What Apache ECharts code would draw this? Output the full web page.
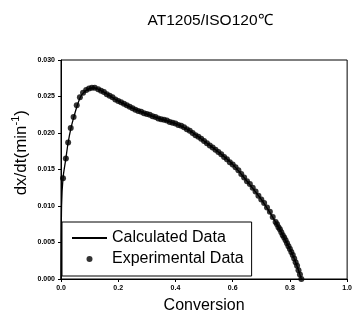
<!DOCTYPE html>
<html><head><meta charset="utf-8">
<script src="https://cdn.jsdelivr.net/npm/echarts@6/dist/echarts.min.js"></script>
<style>html,body{margin:0;padding:0;background:#fff}#c{width:355px;height:325px}</style>
</head><body><div id="c"></div>
<script>
const titleText = 'AT1205/ISO120℃';
const xName = 'Conversion';
const seriesNames = ['Calculated Data', 'Experimental Data'];
const xTicks = [0, 0.2, 0.4, 0.6, 0.8, 1.0];
const yTicks = [0, 0.005, 0.010, 0.015, 0.020, 0.025, 0.030];

const calcX = [0, 0.002, 0.007, 0.017, 0.025, 0.035, 0.045, 0.057, 0.069, 0.081, 0.095, 0.112, 0.13, 0.15, 0.17, 0.20, 0.25, 0.30, 0.35, 0.40, 0.45, 0.50, 0.55, 0.60, 0.65, 0.70, 0.75, 0.80, 0.82, 0.84];
const calcY = [0, 0.0100, 0.0138, 0.0165, 0.0187, 0.0207, 0.0222, 0.0238, 0.0250, 0.0256, 0.0260, 0.0262, 0.0260, 0.0256, 0.0251, 0.0244, 0.0234, 0.0226, 0.0219, 0.0213, 0.0203, 0.0189, 0.0174, 0.0157, 0.0134, 0.0109, 0.0078, 0.0041, 0.0023, 0.0000];

const expX = [0.007, 0.017, 0.025, 0.034, 0.044, 0.055, 0.066, 0.077, 0.088, 0.098, 0.108, 0.118, 0.13, 0.14, 0.15, 0.16, 0.17, 0.18, 0.19, 0.20, 0.21, 0.22, 0.23, 0.24, 0.25, 0.26, 0.27, 0.28, 0.29, 0.30, 0.31, 0.32, 0.33, 0.34, 0.35, 0.36, 0.37, 0.38, 0.39, 0.40, 0.41, 0.42, 0.43, 0.44, 0.45, 0.46, 0.47, 0.48, 0.49, 0.50, 0.51, 0.52, 0.53, 0.54, 0.55, 0.56, 0.57, 0.58, 0.59, 0.60, 0.61, 0.62, 0.63, 0.64, 0.65, 0.66, 0.67, 0.68, 0.69, 0.70, 0.71, 0.72, 0.73, 0.74, 0.75, 0.755, 0.76, 0.765, 0.77, 0.775, 0.78, 0.785, 0.79, 0.795, 0.80, 0.805, 0.81, 0.815, 0.82, 0.825, 0.83, 0.835, 0.84];
const expY = [0.0138, 0.0165, 0.0187, 0.0207, 0.0222, 0.0238, 0.0249, 0.0255, 0.0259, 0.0261, 0.0262, 0.0262, 0.0260, 0.0258, 0.0256, 0.0253, 0.0251, 0.0249, 0.0246, 0.0244, 0.0242, 0.0240, 0.0238, 0.0236, 0.0234, 0.0232, 0.0230, 0.0229, 0.0227, 0.0226, 0.0225, 0.0223, 0.0222, 0.0220, 0.0219, 0.0218, 0.0217, 0.0215, 0.0214, 0.0213, 0.0211, 0.0210, 0.0208, 0.0205, 0.0203, 0.0200, 0.0197, 0.0195, 0.0192, 0.0189, 0.0186, 0.0183, 0.0180, 0.0177, 0.0174, 0.0171, 0.0167, 0.0164, 0.0160, 0.0157, 0.0153, 0.0149, 0.0144, 0.0139, 0.0134, 0.0130, 0.0125, 0.0120, 0.0114, 0.0109, 0.0104, 0.0098, 0.0092, 0.0085, 0.0078, 0.0075, 0.0071, 0.0068, 0.0064, 0.0060, 0.0057, 0.0053, 0.0049, 0.0045, 0.0041, 0.0037, 0.0033, 0.0028, 0.0023, 0.0018, 0.0012, 0.0006, 0.0000];

const FONT = '"Liberation Sans", Arial, sans-serif';
const LINE_ICON = 'path://M0,0L0.01,0L0.01,0.01ZM0,2.1L35,2.1L35,3.9L0,3.9ZM35,6L34.99,6L34.99,5.99Z';
const chart = echarts.init(document.getElementById('c'), null, {renderer: 'canvas'});
chart.setOption({
  animation: false,
  backgroundColor: '#fff',
  title: {text: titleText, left: 205, textAlign: 'center', top: 8,
    textStyle: {fontFamily: FONT, fontSize: 15.5, fontWeight: 'normal', color: '#000'}},
  grid: {left: 61, right: 6, top: 60, bottom: 46, show: true, borderColor: '#000', borderWidth: 1, backgroundColor: 'transparent'},
  xAxis: {type: 'value', min: xTicks[0], max: xTicks[xTicks.length - 1], interval: 0.2,
    name: xName, nameLocation: 'middle', nameGap: 19,
    nameTextStyle: {fontFamily: FONT, fontSize: 16, color: '#000', verticalAlign: 'top'},
    axisLine: {show: true, lineStyle: {color: '#000', width: 1}},
    axisTick: {show: true, length: 3, lineStyle: {color: '#000'}},
    splitLine: {show: false},
    axisLabel: {fontFamily: FONT, fontSize: 7, fontWeight: 'bold', color: '#000', margin: 6,
      formatter: v => v.toFixed(1)}},
  yAxis: {type: 'value', min: yTicks[0], max: yTicks[yTicks.length - 1], interval: 0.005,
    axisLine: {show: true, lineStyle: {color: '#000', width: 1}},
    axisTick: {show: true, length: 3, lineStyle: {color: '#000'}},
    splitLine: {show: false},
    axisLabel: {fontFamily: FONT, fontSize: 7, fontWeight: 'bold', color: '#000', margin: 6,
      formatter: v => v.toFixed(3)}},
  legend: {orient: 'vertical', left: 62, top: 222, borderColor: '#000', borderWidth: 1,
    backgroundColor: '#fff', borderRadius: 0, padding: [7, 8, 8, 10], itemGap: 3,
    itemWidth: 35, itemHeight: 6,
    textStyle: {fontFamily: FONT, fontSize: 16, color: '#000', lineHeight: 18},
    data: [{name: seriesNames[0], icon: LINE_ICON, itemStyle: {color: '#000'}},
           {name: seriesNames[1], icon: 'circle'}]},
  graphic: [{type: 'text', left: 10, top: 110, rotation: Math.PI / 2,
    style: {text: '{a|dx/dt(min}{s|-1}{a|)}', fill: '#000',
      rich: {a: {fontFamily: FONT, fontSize: 17, lineHeight: 20, verticalAlign: 'bottom'},
             s: {fontFamily: FONT, fontSize: 11, lineHeight: 20, verticalAlign: 'top'}}}}],
  series: [
    {name: seriesNames[0], type: 'line', data: calcX.map((x, i) => [x, calcY[i]]),
      smooth: 0.3, showSymbol: false, symbol: 'none', z: 3,
      lineStyle: {color: '#000', width: 1.3}, itemStyle: {color: '#000'}},
    {name: seriesNames[1], type: 'scatter', data: expX.map((x, i) => [x, expY[i]]),
      symbol: 'circle', symbolSize: 6, z: 2, itemStyle: {color: '#000'}}
  ]
});
</script></body></html>
